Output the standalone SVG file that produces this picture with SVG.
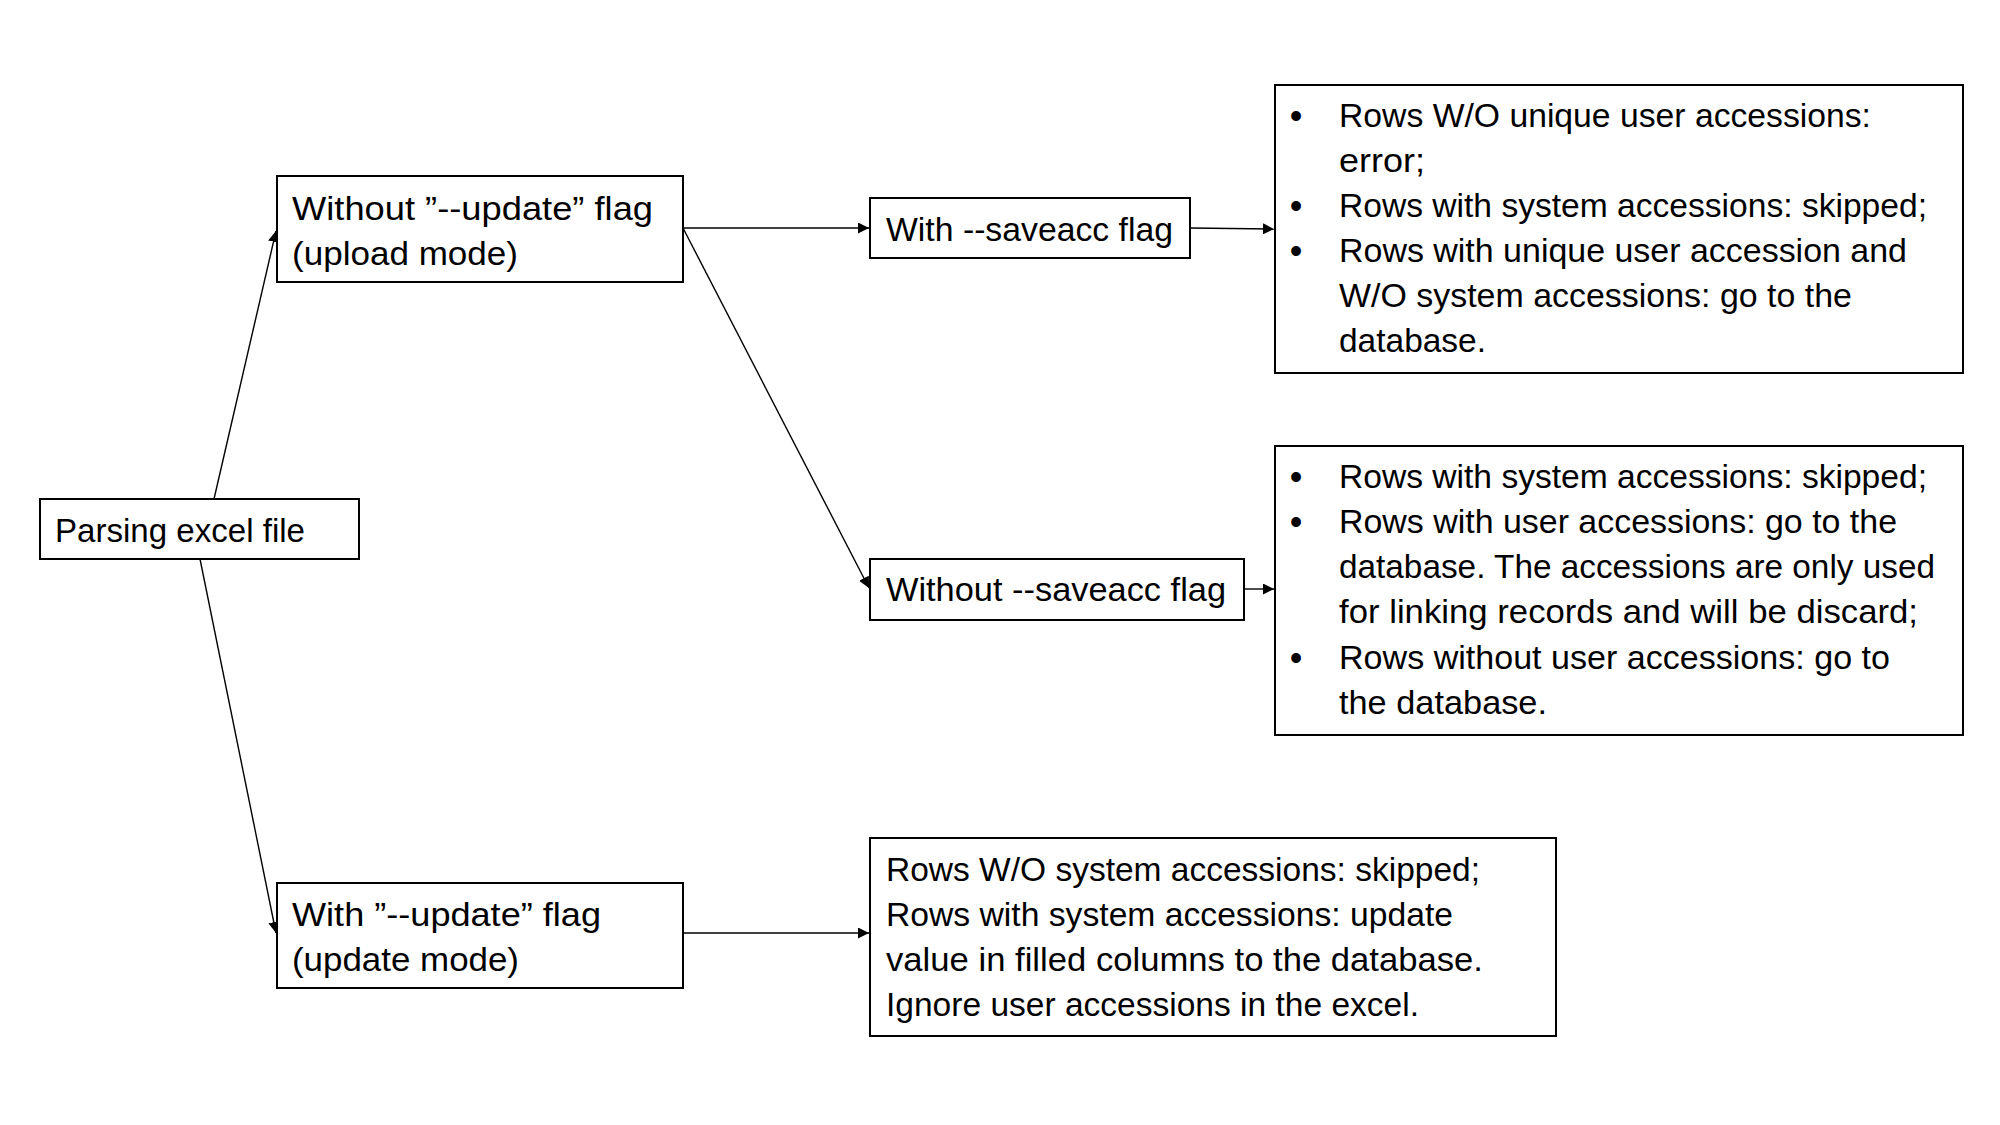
<svg xmlns="http://www.w3.org/2000/svg" width="2000" height="1125" viewBox="0 0 2000 1125">
<style>
.box{fill:#fff;stroke:#000;stroke-width:2}
.t{font-family:"Liberation Sans",Arial,sans-serif;font-size:33.5px;fill:#000}
.b{font-family:"Liberation Sans",Arial,sans-serif;font-size:36px;fill:#000;text-anchor:middle}
.c{fill:none;stroke:#000;stroke-width:1.4;marker-end:url(#ah)}
</style>
<defs>
<marker id="ah" viewBox="0 0 10 10" refX="10" refY="5" markerWidth="11" markerHeight="11" markerUnits="userSpaceOnUse" orient="auto">
<path d="M0,0 L10,5 L0,10 z" fill="#000"/>
</marker>
</defs>
<rect width="2000" height="1125" fill="#fff"/>
<g id="connectors">
<line class="c" x1="214" y1="499" x2="276" y2="231"/>
<line class="c" x1="200" y1="559" x2="276" y2="933"/>
<line class="c" x1="683" y1="228" x2="869" y2="228"/>
<line class="c" x1="683" y1="228" x2="869" y2="588"/>
<line class="c" x1="1190" y1="228" x2="1274" y2="229"/>
<line class="c" x1="1244" y1="589" x2="1274" y2="589"/>
<line class="c" x1="683" y1="933" x2="869" y2="933"/>
</g>
<g id="parsing">
<rect class="box" x="40" y="499" width="319" height="60"/>
<text class="t" x="55" y="542" textLength="250" lengthAdjust="spacingAndGlyphs">Parsing excel file</text>
</g>
<g id="without-update">
<rect class="box" x="277" y="176" width="406" height="106"/>
<text class="t" x="292" y="220" textLength="361" lengthAdjust="spacingAndGlyphs">Without ”--update” flag</text>
<text class="t" x="292" y="265" textLength="226" lengthAdjust="spacingAndGlyphs">(upload mode)</text>
</g>
<g id="with-update">
<rect class="box" x="277" y="883" width="406" height="105"/>
<text class="t" x="292" y="926" textLength="309" lengthAdjust="spacingAndGlyphs">With ”--update” flag</text>
<text class="t" x="292" y="971" textLength="227" lengthAdjust="spacingAndGlyphs">(update mode)</text>
</g>
<g id="with-saveacc">
<rect class="box" x="870" y="198" width="320" height="60"/>
<text class="t" x="886" y="241" textLength="287" lengthAdjust="spacingAndGlyphs">With --saveacc flag</text>
</g>
<g id="without-saveacc">
<rect class="box" x="870" y="559" width="374" height="61"/>
<text class="t" x="886" y="601" textLength="340" lengthAdjust="spacingAndGlyphs">Without --saveacc flag</text>
</g>
<g id="saveacc-result">
<rect class="box" x="1275" y="85" width="688" height="288"/>
<text class="b" x="1296" y="128">•</text>
<text class="t" x="1339" y="127" textLength="532" lengthAdjust="spacingAndGlyphs">Rows W/O unique user accessions:</text>
<text class="t" x="1339" y="172" textLength="86" lengthAdjust="spacingAndGlyphs">error;</text>
<text class="b" x="1296" y="218">•</text>
<text class="t" x="1339" y="217" textLength="588" lengthAdjust="spacingAndGlyphs">Rows with system accessions: skipped;</text>
<text class="b" x="1296" y="263">•</text>
<text class="t" x="1339" y="262" textLength="568" lengthAdjust="spacingAndGlyphs">Rows with unique user accession and</text>
<text class="t" x="1339" y="307" textLength="513" lengthAdjust="spacingAndGlyphs">W/O system accessions: go to the</text>
<text class="t" x="1339" y="352" textLength="147" lengthAdjust="spacingAndGlyphs">database.</text>
</g>
<g id="no-saveacc-result">
<rect class="box" x="1275" y="446" width="688" height="289"/>
<text class="b" x="1296" y="489">•</text>
<text class="t" x="1339" y="488" textLength="588" lengthAdjust="spacingAndGlyphs">Rows with system accessions: skipped;</text>
<text class="b" x="1296" y="534">•</text>
<text class="t" x="1339" y="533" textLength="558" lengthAdjust="spacingAndGlyphs">Rows with user accessions: go to the</text>
<text class="t" x="1339" y="578" textLength="596" lengthAdjust="spacingAndGlyphs">database. The accessions are only used</text>
<text class="t" x="1339" y="623" textLength="579" lengthAdjust="spacingAndGlyphs">for linking records and will be discard;</text>
<text class="b" x="1296" y="670">•</text>
<text class="t" x="1339" y="669" textLength="551" lengthAdjust="spacingAndGlyphs">Rows without user accessions: go to</text>
<text class="t" x="1339" y="714" textLength="208" lengthAdjust="spacingAndGlyphs">the database.</text>
</g>
<g id="update-result">
<rect class="box" x="870" y="838" width="686" height="198"/>
<text class="t" x="886" y="881" textLength="594" lengthAdjust="spacingAndGlyphs">Rows W/O system accessions: skipped;</text>
<text class="t" x="886" y="926" textLength="567" lengthAdjust="spacingAndGlyphs">Rows with system accessions: update</text>
<text class="t" x="886" y="971" textLength="597" lengthAdjust="spacingAndGlyphs">value in filled columns to the database.</text>
<text class="t" x="886" y="1016" textLength="533" lengthAdjust="spacingAndGlyphs">Ignore user accessions in the excel.</text>
</g>
</svg>
